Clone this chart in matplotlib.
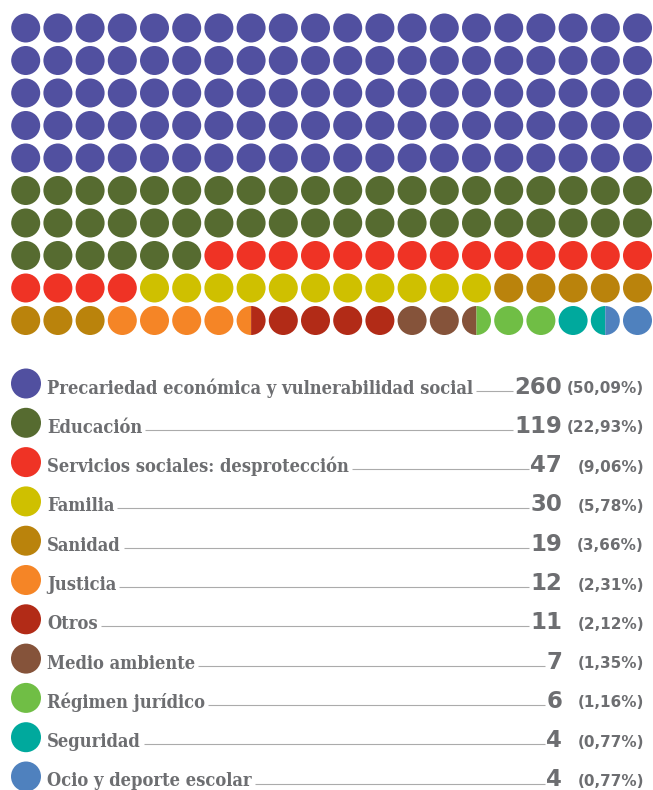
import numpy as np
import matplotlib
matplotlib.use("Agg")
import matplotlib.pyplot as plt
from matplotlib.patches import Circle, Wedge
from matplotlib.font_manager import fontManager, FontProperties

# ── Données ──────────────────────────────────────────────────────────────────
categories = [
    "Precariedad económica y vulnerabilidad social",
    "Educación",
    "Servicios sociales: desprotección",
    "Familia",
    "Sanidad",
    "Justicia",
    "Otros",
    "Medio ambiente",
    "Régimen jurídico",
    "Seguridad",
    "Ocio y deporte escolar",
]
values = [260, 119, 47, 30, 19, 12, 11, 7, 6, 4, 4]
pct_labels = ["(50,09%)", "(22,93%)", "(9,06%)", "(5,78%)", "(3,66%)", "(2,31%)",
              "(2,12%)", "(1,35%)", "(1,16%)", "(0,77%)", "(0,77%)"]
# nombre de cercles (par demi-cercle)
waffle_cells = [100, 46, 18, 11, 8, 4.5, 4.5, 2.5, 2.5, 1.5, 1.5]
colors = ["#5150a0", "#566b30", "#ef3325", "#cfc000", "#ba830c", "#f58526",
          "#b22b17", "#85533a", "#70be45", "#00a99d", "#4f81be"]

TEXT_COLOR = "#6d6e71"
LINE_COLOR = "#ababab"


def find_font(names):
    for name in names:
        for f in fontManager.ttflist:
            if f.fname.split("/")[-1].lower().startswith(name):
                return FontProperties(fname=f.fname)
    return None


label_fp = find_font(["dejavuserifcondensed-bold.", "dejavusanscondensed-bold."])
if label_fp is None:
    label_fp = FontProperties(family="DejaVu Serif", weight="bold")
num_fp = FontProperties(family="DejaVu Sans", weight="bold")

# ── Figure ───────────────────────────────────────────────────────────────────
W, H = 653, 790
fig = plt.figure(figsize=(W / 100, H / 100), dpi=100)
ax = fig.add_axes([0, 0, 1, 1])
ax.set_xlim(0, W)
ax.set_ylim(H, 0)
ax.set_aspect("equal")
ax.axis("off")

# ── Gaufre ───────────────────────────────────────────────────────────────────
N_ROWS, N_COLS = 10, 20
X0, DX = 25.7, 32.2
Y0, DY = 28.0, 32.5
R = 14.5

halves = []
for c, n in zip(colors, waffle_cells):
    halves += [c] * int(round(n * 2))

for k in range(N_ROWS * N_COLS):
    i, j = divmod(k, N_COLS)
    cx, cy = X0 + j * DX, Y0 + i * DY
    left, right = halves[2 * k], halves[2 * k + 1]
    if left == right:
        ax.add_patch(Circle((cx, cy), R, color=left, lw=0))
    else:
        ax.add_patch(Wedge((cx, cy), R, 90, 270, color=left, lw=0))
        ax.add_patch(Wedge((cx, cy), R, -90, 90, color=right, lw=0))

# ── Légende ──────────────────────────────────────────────────────────────────
LY0, LDY = 383.5, 39.3
renderer = fig.canvas.get_renderer()

# taille de police ajustée à la largeur du libellé le plus long
probe = ax.text(0, 0, categories[0], fontproperties=label_fp, fontsize=10)
w10 = probe.get_window_extent(renderer).width
probe.remove()
label_size = min(15.0, 10 * 430 / w10)

for idx, (cat, v, pct, c) in enumerate(zip(categories, values, pct_labels, colors)):
    cy = LY0 + idx * LDY
    ax.add_patch(Circle((26, cy), 15, color=c, lw=0))
    t = ax.text(47, cy + 10, cat, fontproperties=label_fp, fontsize=label_size,
                color=TEXT_COLOR, ha="left", va="baseline")
    n = ax.text(562, cy + 10, str(v), fontproperties=num_fp, fontsize=16.5,
                color=TEXT_COLOR, ha="right", va="baseline")
    ax.text(644, cy + 9.5, pct, fontproperties=num_fp, fontsize=11,
            color=TEXT_COLOR, ha="right", va="baseline")
    x_start = t.get_window_extent(renderer).x1 + 3
    x_end = n.get_window_extent(renderer).x0 - 1
    ax.plot([x_start, x_end], [cy + 7, cy + 7], color=LINE_COLOR, lw=0.8,
            solid_capstyle="butt")

fig.savefig("out.png", dpi=100)
